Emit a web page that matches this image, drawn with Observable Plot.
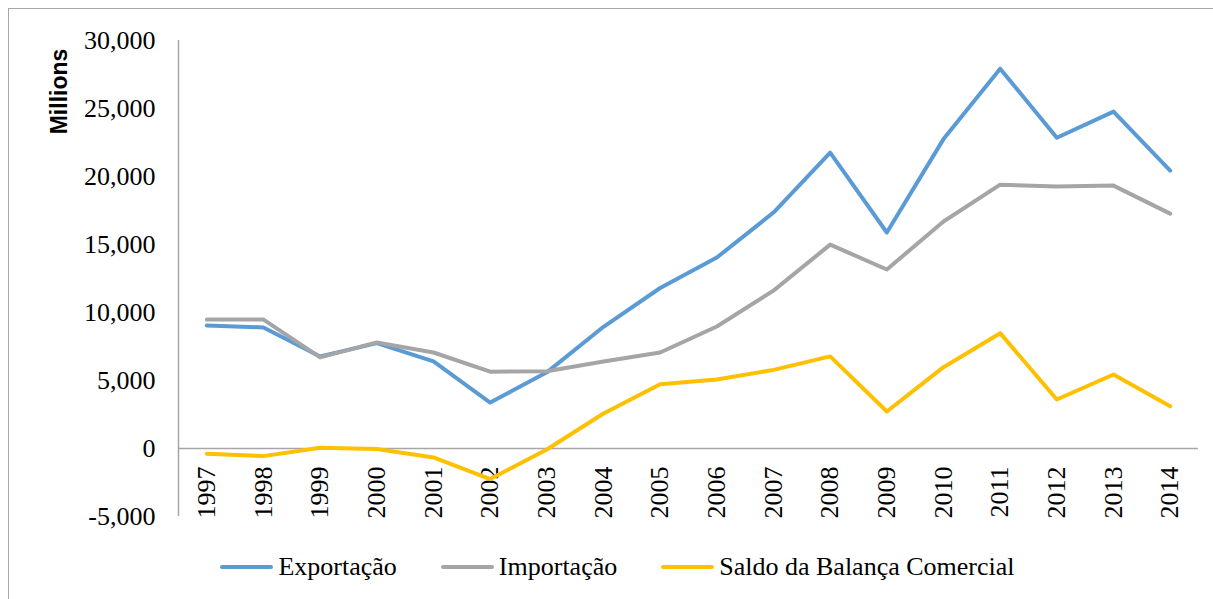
<!DOCTYPE html>
<html>
<head>
<meta charset="utf-8">
<script src="https://cdn.jsdelivr.net/npm/d3@7"></script>
<script src="https://cdn.jsdelivr.net/npm/@observablehq/plot@0.6"></script>
<style>
  html, body { margin: 0; padding: 0; background: #fff; width: 1213px; height: 599px; overflow: hidden; }
  #frame { position: absolute; left: 8px; top: 8px; width: 1300px; height: 700px; border: 1.5px solid #a6a6a6; box-sizing: border-box; }
  #chart { position: absolute; left: 0; top: 0; }
  #chart svg text { font-family: "Liberation Serif", "Times New Roman", serif !important; }
  #chart svg text.millions, #chart svg g.millions text { font-family: "Liberation Sans", Arial, sans-serif !important; font-weight: bold; }
  #legend { position: absolute; left: 0; top: 552px; width: 1213px; display: flex; justify-content: center; align-items: center; padding-left: 22px; box-sizing: border-box;
    font-family: "Liberation Serif", "Times New Roman", serif; font-size: 26px; color: #000; }
  .item { display: flex; align-items: center; margin: 0 22px; }
  .sw { width: 53px; height: 4px; border-radius: 2px; margin-right: 5px; }
</style>
</head>
<body>
<div id="frame"></div>
<div id="chart"></div>
<div id="legend"></div>
<script>
const years = ["1997","1998","1999","2000","2001","2002","2003","2004","2005","2006","2007","2008","2009","2010","2011","2012","2013","2014"];
const exportacao = [9050, 8900, 6760, 7750, 6400, 3380, 5600, 8950, 11800, 14040, 17350, 21750, 15880, 22750, 27930, 22850, 24770, 20430];
const importacao = [9480, 9480, 6700, 7800, 7060, 5650, 5680, 6400, 7060, 8970, 11610, 14990, 13160, 16690, 19400, 19260, 19330, 17270];
const saldo = [-380, -560, 60, -40, -660, -2250, -70, 2570, 4720, 5070, 5780, 6770, 2720, 5980, 8480, 3600, 5440, 3100];
const seriesNames = ["Exportação", "Importação", "Saldo da Balança Comercial"];
const seriesColors = ["#5B9BD5", "#A5A5A5", "#FFC000"];
const yTicks = [-5000, 0, 5000, 10000, 15000, 20000, 25000, 30000];

const seriesValues = [exportacao, importacao, saldo];
const rows = [];
seriesValues.forEach((vals, s) => vals.forEach((v, i) => rows.push({series: seriesNames[s], year: years[i], value: v})));

const fmt = d3.formatLocale({decimal: ".", thousands: ",", grouping: [3], minus: "-"}).format(",");

const step = (1213 - 178 - 15) / years.length;

const chart = Plot.plot({
  width: 1213,
  height: 530,
  marginLeft: 178,
  marginRight: 15,
  marginTop: 40,
  marginBottom: 14,
  style: {fontSize: "26px", color: "#000", background: "transparent", overflow: "visible"},
  x: {type: "point", domain: years, padding: 0.5, round: false, axis: null},
  y: {domain: [-5000, 30000], axis: null},
  color: {domain: seriesNames, range: seriesColors},
  marks: [
    Plot.ruleX([years[0]], {x: d => d, y1: -5000, y2: 30000, stroke: "#a6a6a6", strokeWidth: 1.5, dx: -step / 2}),
    Plot.axisY({ticks: yTicks, tickSize: 0, tickPadding: 23, tickFormat: fmt, fontSize: 26, label: null}),
    Plot.ruleY([0], {stroke: "#a6a6a6", strokeWidth: 1.5}),
    Plot.text(years, {x: d => d, y: 0, text: d => d, rotate: -90, textAnchor: "end", dy: 18, fontSize: 26, fill: "#000"}),
    Plot.line(rows, {x: "year", y: "value", z: "series", stroke: "series", strokeWidth: 4, strokeLinejoin: "round", strokeLinecap: "round"}),
    Plot.text(["Millions"], {frameAnchor: "top-left", text: d => d, rotate: -90, textAnchor: "middle", lineAnchor: "middle", dx: -119, dy: 51, fontWeight: "bold", fontSize: 23, fill: "#000", className: "millions"})
  ]
});
document.getElementById("chart").appendChild(chart);

const legend = document.getElementById("legend");
seriesNames.forEach((name, i) => {
  const item = document.createElement("div");
  item.className = "item";
  const sw = document.createElement("div");
  sw.className = "sw";
  sw.style.background = seriesColors[i];
  const label = document.createElement("span");
  label.textContent = name;
  item.appendChild(sw);
  item.appendChild(label);
  legend.appendChild(item);
});
</script>
</body>
</html>
